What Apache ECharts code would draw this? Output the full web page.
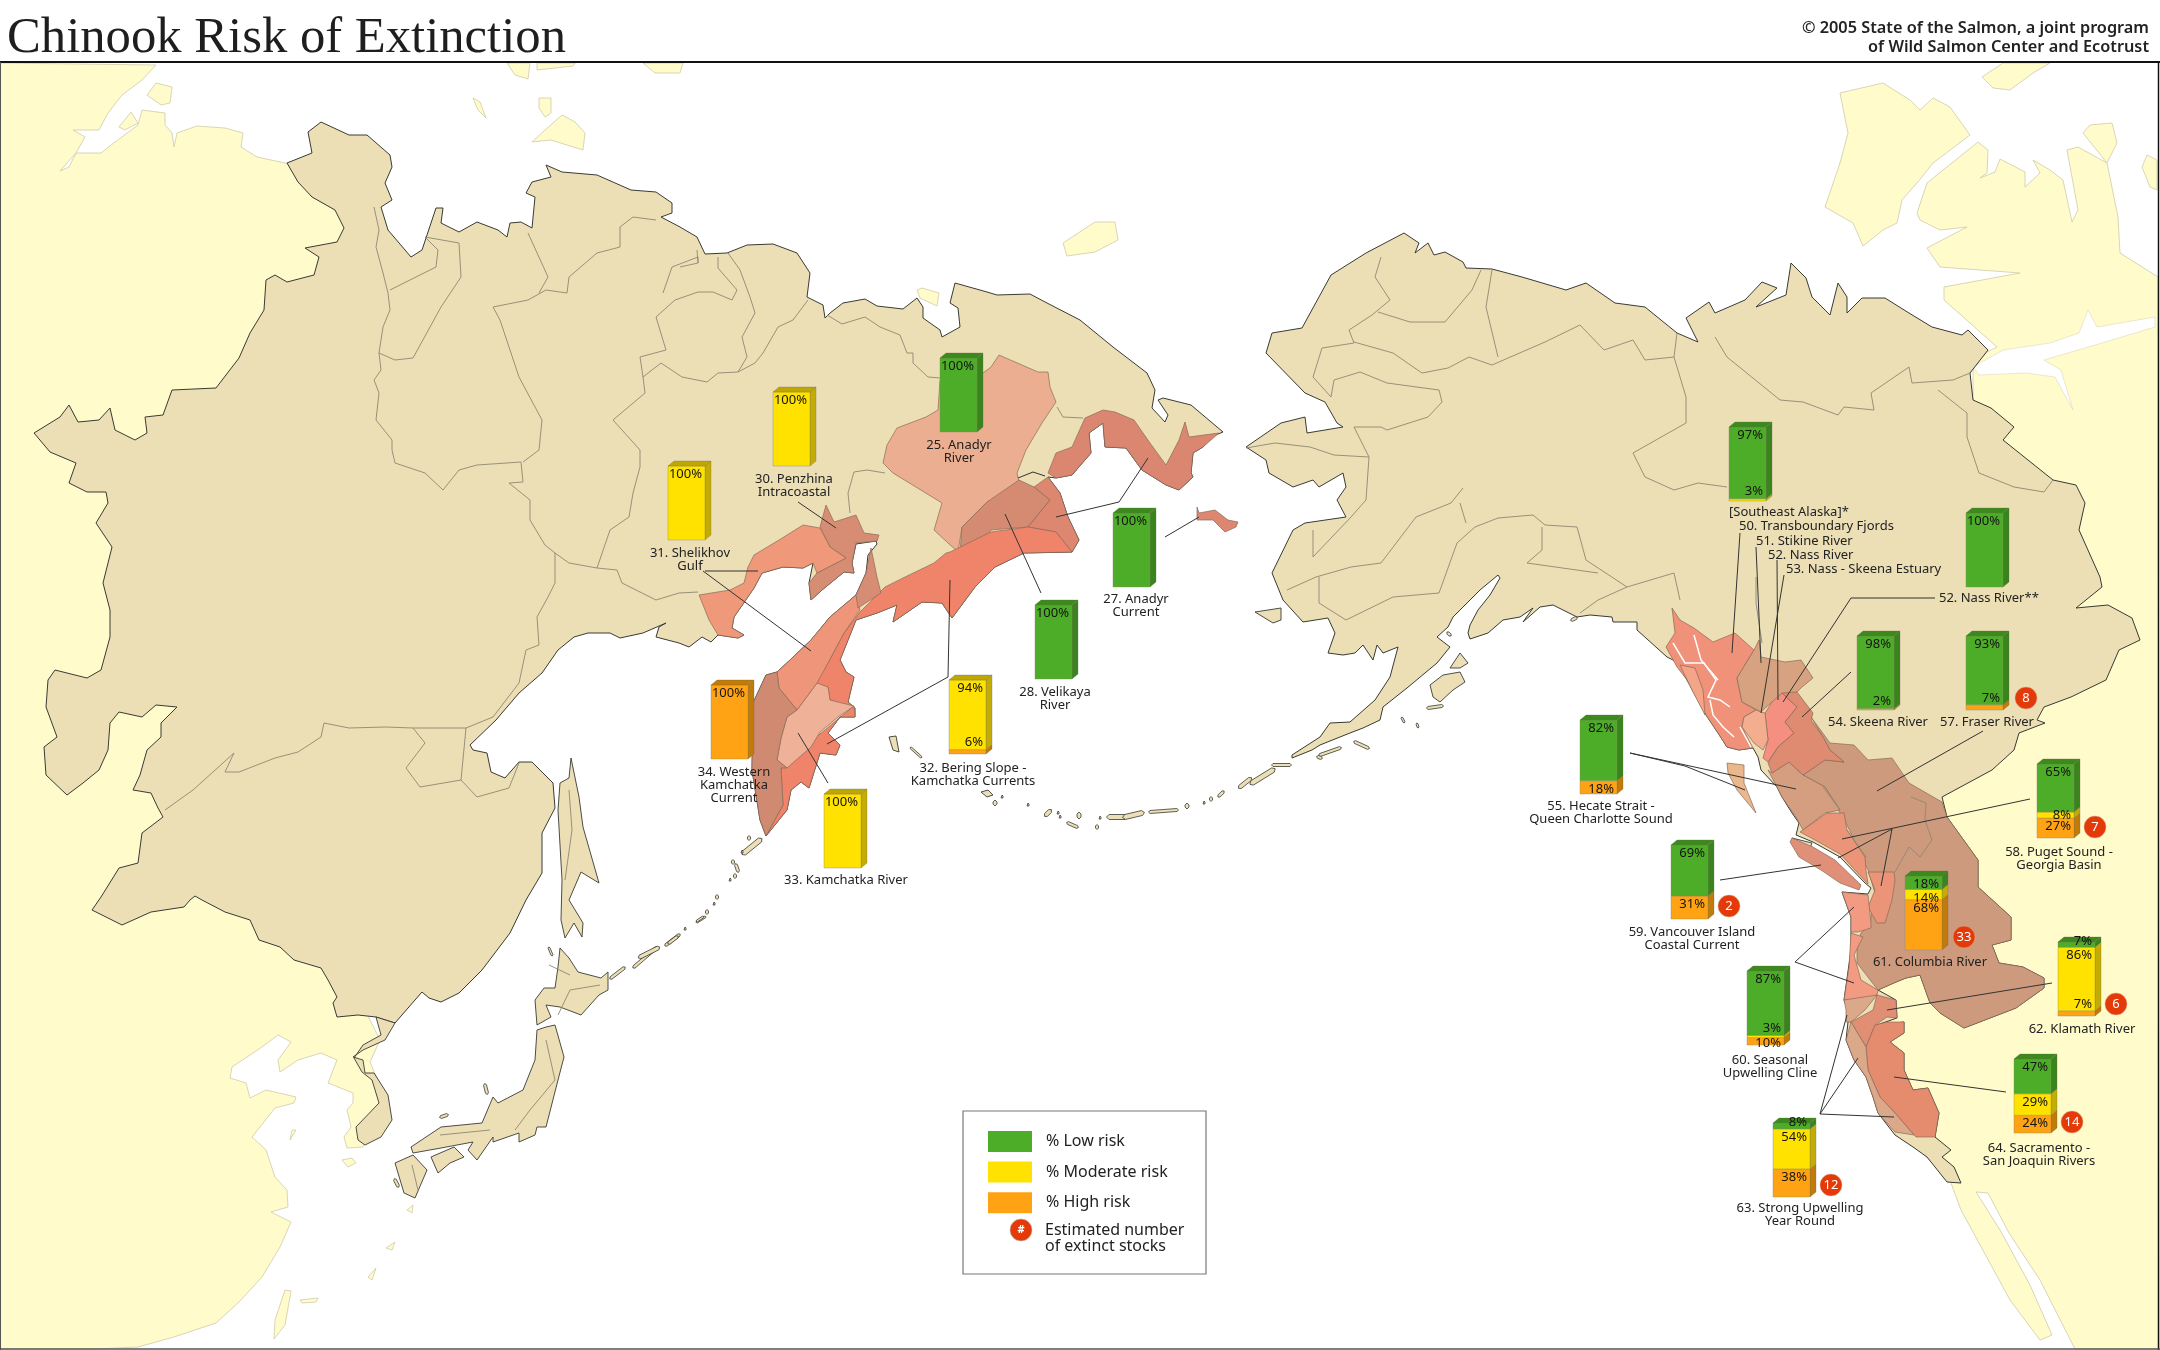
<!DOCTYPE html>
<html><head><meta charset="utf-8">
<style>html,body{margin:0;padding:0;background:#fff}#c{width:2160px;height:1350px}</style>
<script src="https://cdn.jsdelivr.net/npm/echarts@6/dist/echarts.min.js"></script>
</head><body><div id="c"></div>
<script>
// ---------- chart values ----------
const stationKeys = ['25','30','31','27','28','34','32','33','SE','52N','54','57','55','58','59','61','60','62','64','63'];
const lowRisk      = [100,  0,  0,100,100,  0,  0,  0, 97,100, 98, 93, 82, 65, 69, 18, 87,  7, 47,  8];
const moderateRisk = [  0,100,100,  0,  0,  0, 94,100,  3,  0,  0,  0,  0,  8,  0, 14,  3, 86, 29, 54];
const highRisk     = [  0,  0,  0,  0,  0,100,  6,  0,  0,  0,  2,  7, 18, 27, 31, 68, 10,  7, 24, 38];
const extinctStocks = {'57':8,'58':7,'59':2,'61':33,'62':6,'64':14,'63':12};
const riskNames = ['% Low risk','% Moderate risk','% High risk'];
const titleText = 'Chinook Risk of Extinction';
const creditText = '© 2005 State of the Salmon, a joint program\nof Wild Salmon Center and Ecotrust';

// ---------- layout (front-left x, front-top y of each bar) ----------
const barPos = [[940,358],[773,392],[668,466],[1113,513],[1035,605],[711,685],[949,680],[824,794],[1729,427],[1966,513],[1857,636],[1966,636],[1580,720],[2037,764],[1671,845],[1905,876],[1747,971],[2058,942],[2014,1059],[1773,1123]];
const badgePos = {'57':[2026,698],'58':[2095,827],'59':[1729,906],'61':[1964,937],'62':[2116,1004],'64':[2072,1122],'63':[1831,1185]};
const centredLabels = [
 ['25. Anadyr\nRiver',959,439],['30. Penzhina\nIntracoastal',794,473],['31. Shelikhov\nGulf',690,547],['27. Anadyr\nCurrent',1136,593],
 ['28. Velikaya\nRiver',1055,686],['34. Western\nKamchatka\nCurrent',734,766],['32. Bering Slope -\nKamchatka Currents',973,762],['33. Kamchatka River',846,874],
 ['54. Skeena River',1878,716],['57. Fraser River',1987,716],['55. Hecate Strait -\nQueen Charlotte Sound',1601,800],['58. Puget Sound -\nGeorgia Basin',2059,846],
 ['59. Vancouver Island\nCoastal Current',1692,926],['61. Columbia River',1930,956],['60. Seasonal\nUpwelling Cline',1770,1054],['62. Klamath River',2082,1023],
 ['64. Sacramento -\nSan Joaquin Rivers',2039,1142],['63. Strong Upwelling\nYear Round',1800,1202]];
const leftLabels = [['[Southeast Alaska]*',1729,506],['50. Transboundary Fjords',1739,520],['51. Stikine River',1756,535],['52. Nass River',1768,549],['53. Nass - Skeena Estuary',1786,563],['52. Nass River**',1939,592]];

// ---------- geography traced in picture pixels ----------
const paleWest = [[0,63],[156,65],[142,80],[122,95],[108,113],[99,130],[73,130],[85,137],[76,153],[60,171],[69,167],[76,153],[101,153],[115,142],[138,125],[142,110],[165,113],[165,125],[172,133],[174,147],[177,133],[197,126],[225,128],[243,133],[241,147],[257,157],[285,163],[330,170],[420,400],[400,800],[360,1000],[380,1040],[370,1062],[384,1095],[372,1120],[363,1147],[347,1148],[344,1137],[351,1127],[347,1110],[353,1103],[353,1093],[328,1083],[337,1060],[321,1053],[298,1060],[280,1072],[278,1060],[291,1042],[278,1035],[262,1047],[232,1067],[230,1078],[246,1083],[250,1098],[266,1090],[296,1097],[294,1103],[275,1108],[252,1137],[266,1150],[275,1177],[287,1190],[288,1207],[271,1212],[291,1222],[280,1247],[262,1277],[239,1302],[216,1323],[174,1337],[138,1347],[96,1349],[0,1349]];
const paleEast = [[2158,277],[2120,253],[2118,217],[2107,163],[2078,147],[2067,150],[2078,210],[2072,222],[2063,180],[2050,170],[2033,160],[2040,173],[2025,187],[2025,172],[2000,159],[1995,172],[1980,178],[1987,173],[1988,150],[1978,142],[1927,183],[1917,213],[1920,220],[1940,230],[1967,227],[1927,248],[1940,267],[2020,273],[1944,287],[1944,300],[1997,347],[1985,353],[1973,367],[1973,400],[1800,500],[1800,700],[1830,780],[1880,870],[1885,930],[1870,985],[1872,1028],[1895,1100],[1920,1150],[1951,1183],[1961,1210],[1985,1254],[2010,1300],[2040,1340],[2052,1335],[2030,1285],[2000,1230],[1976,1192],[1988,1193],[2009,1233],[2040,1280],[2075,1349],[2159,1349]];
const channel = [[1973,367],[2003,350],[2050,343],[2079,333],[2088,310],[2097,327],[2155,317],[2155,327],[2102,343],[2044,360],[2061,370],[2073,410],[2055,377],[2026,373],[1979,375]];
const paleIslands = [
 [[1840,93],[1883,83],[1910,100],[1920,110],[1933,98],[1950,107],[1970,135],[1933,163],[1917,183],[1902,200],[1897,223],[1883,230],[1863,246],[1853,223],[1825,207],[1840,163],[1848,133]],
 [[1982,77],[2003,63],[2050,63],[2033,73],[2010,90],[1993,88]],
 [[2083,133],[2090,125],[2112,123],[2117,143],[2107,163]],
 [[2142,167],[2147,155],[2157,160],[2157,190],[2150,187]],
 [[507,63],[515,75],[528,79],[530,63]],[[537,63],[537,70],[573,66],[575,63]],[[643,63],[655,73],[680,73],[683,63]],
 [[473,98],[480,102],[486,118],[478,110]],[[539,98],[551,98],[551,113],[545,117],[539,108]],
 [[532,142],[545,130],[562,115],[575,122],[585,133],[583,150],[551,140]],
 [[147,95],[156,83],[172,87],[170,103],[161,105]],[[119,127],[131,112],[138,123],[125,130]],
 [[1063,243],[1095,222],[1115,222],[1118,240],[1095,252],[1067,256]],[[917,290],[922,288],[939,293],[937,306],[920,298]],
 [[342,1160],[352,1158],[356,1163],[348,1167]],[[275,1320],[285,1290],[291,1291],[285,1325],[274,1339]],
 [[292,1130],[296,1130],[290,1140]],
 [[407,1210],[413,1205],[412,1213]],[[386,1248],[395,1242],[392,1250]],[[368,1277],[376,1268],[372,1280]],[[300,1300],[318,1298],[316,1302],[302,1303]]];
const beigeMain = [[34,433],[60,417],[69,405],[78,422],[99,420],[110,408],[115,430],[135,440],[147,433],[145,417],[163,415],[172,390],[216,388],[239,358],[250,333],[264,310],[266,280],[275,275],[287,282],[314,275],[319,257],[305,248],[337,242],[344,228],[335,210],[312,197],[298,182],[287,163],[312,153],[308,132],[321,122],[349,135],[367,135],[390,155],[392,167],[385,183],[392,200],[381,207],[388,230],[411,257],[422,250],[436,208],[443,208],[441,223],[459,232],[477,222],[498,230],[507,237],[510,223],[521,222],[532,228],[535,197],[526,193],[532,182],[551,177],[546,165],[562,172],[597,175],[631,190],[656,192],[672,203],[672,213],[661,217],[680,227],[697,237],[705,254],[727,253],[747,245],[773,244],[797,253],[810,273],[807,297],[823,305],[825,318],[830,313],[843,303],[865,299],[877,306],[903,309],[917,298],[923,307],[923,318],[940,330],[942,337],[960,327],[958,308],[950,303],[955,283],[987,292],[997,295],[1030,294],[1047,303],[1080,320],[1113,347],[1147,373],[1155,390],[1152,408],[1165,422],[1168,415],[1158,400],[1163,398],[1191,405],[1223,432],[1211,437],[1203,447],[1193,453],[1191,473],[1193,477],[1179,490],[1166,485],[1142,470],[1126,448],[1105,447],[1103,423],[1089,433],[1091,453],[1072,475],[1056,478],[1048,477],[1060,493],[1068,517],[1079,540],[1072,552],[1024,553],[995,567],[975,587],[952,618],[942,603],[922,602],[893,622],[897,605],[877,613],[856,620],[840,660],[846,672],[854,677],[848,702],[855,708],[855,717],[840,717],[828,733],[840,745],[836,755],[820,753],[809,788],[801,782],[791,790],[787,810],[766,836],[760,820],[752,770],[753,703],[766,675],[777,672],[790,660],[811,640],[830,617],[856,595],[866,573],[868,555],[877,544],[876,541],[856,544],[852,563],[854,573],[844,572],[822,590],[811,600],[809,583],[813,563],[803,568],[783,567],[762,573],[754,588],[734,617],[732,628],[744,635],[738,638],[718,635],[711,642],[702,637],[689,647],[679,643],[656,637],[659,627],[666,623],[643,633],[620,638],[610,633],[588,633],[574,637],[558,650],[542,673],[519,693],[496,720],[470,745],[473,750],[487,753],[491,772],[505,778],[519,762],[532,762],[553,783],[555,808],[542,833],[542,873],[526,900],[510,933],[482,970],[459,993],[441,1002],[429,998],[422,992],[415,1000],[395,1023],[376,1017],[358,1015],[337,1017],[333,1003],[337,997],[328,980],[321,968],[294,960],[280,947],[259,940],[250,920],[225,912],[202,900],[195,896],[190,900],[184,907],[151,912],[122,925],[92,910],[101,897],[119,868],[138,863],[142,833],[163,817],[158,808],[151,793],[133,790],[140,775],[147,750],[161,737],[161,723],[177,707],[156,705],[142,717],[119,712],[110,723],[108,750],[99,770],[83,783],[67,795],[46,775],[44,747],[57,737],[46,707],[48,680],[55,670],[87,678],[101,670],[110,637],[110,610],[103,583],[112,547],[96,523],[108,503],[106,492],[87,492],[69,483],[76,463],[50,452]];
const beigeAmerica = [[1404,233],[1419,243],[1415,253],[1428,243],[1434,255],[1445,252],[1463,262],[1466,268],[1492,269],[1522,277],[1566,290],[1586,283],[1615,303],[1645,307],[1677,333],[1698,342],[1686,318],[1709,302],[1715,313],[1745,300],[1762,282],[1777,288],[1756,307],[1786,295],[1791,263],[1806,278],[1812,297],[1830,315],[1838,283],[1847,297],[1847,313],[1862,298],[1885,298],[1909,313],[1932,327],[1962,335],[1968,330],[1988,350],[1970,373],[1973,400],[1991,408],[2014,427],[2003,440],[2053,480],[2076,485],[2085,503],[2079,530],[2100,577],[2102,587],[2076,608],[2108,605],[2132,618],[2140,640],[2119,650],[2106,680],[2071,697],[2044,707],[2037,720],[2045,723],[2019,733],[2014,750],[1992,770],[1942,797],[1947,817],[1978,860],[1978,887],[2011,917],[2011,940],[1992,945],[1999,963],[2023,967],[2044,978],[2044,988],[2016,1008],[1964,1028],[1940,1013],[1930,1003],[1920,975],[1906,978],[1896,982],[1878,990],[1896,1000],[1897,1018],[1877,1025],[1904,1022],[1904,1033],[1890,1042],[1904,1053],[1904,1070],[1913,1090],[1928,1088],[1939,1113],[1935,1137],[1951,1150],[1942,1157],[1954,1167],[1961,1183],[1947,1182],[1927,1157],[1913,1147],[1895,1135],[1878,1113],[1873,1097],[1866,1077],[1854,1060],[1846,1040],[1849,1013],[1844,1000],[1851,950],[1851,930],[1851,917],[1842,892],[1868,894],[1871,888],[1865,883],[1840,857],[1813,842],[1796,835],[1799,823],[1792,813],[1782,797],[1777,787],[1761,770],[1758,757],[1753,748],[1739,750],[1727,747],[1718,733],[1706,715],[1687,680],[1677,662],[1667,657],[1637,630],[1637,622],[1613,622],[1612,617],[1590,615],[1577,617],[1553,605],[1540,607],[1523,622],[1533,608],[1520,617],[1503,620],[1488,633],[1470,639],[1468,633],[1470,625],[1478,610],[1490,595],[1500,578],[1498,575],[1480,590],[1467,603],[1453,617],[1448,627],[1437,637],[1450,647],[1437,663],[1407,688],[1383,707],[1380,720],[1363,728],[1350,733],[1320,745],[1312,750],[1292,758],[1292,755],[1320,737],[1330,723],[1350,722],[1375,700],[1390,677],[1398,647],[1383,653],[1377,645],[1373,660],[1363,645],[1355,653],[1343,655],[1328,653],[1335,633],[1328,618],[1303,622],[1283,600],[1272,573],[1293,530],[1305,523],[1346,517],[1337,500],[1346,487],[1343,473],[1319,487],[1313,480],[1293,487],[1269,473],[1266,460],[1246,447],[1281,423],[1305,417],[1307,433],[1343,427],[1337,423],[1325,402],[1305,393],[1266,353],[1272,333],[1302,328],[1331,275],[1366,253]];
const beigeIslands = [
 [[376,1017],[395,1023],[385,1040],[363,1050],[353,1057],[363,1060],[365,1073],[374,1073],[388,1095],[392,1120],[381,1137],[365,1145],[358,1140],[356,1127],[379,1103],[372,1080],[362,1072],[354,1058],[363,1045],[381,1035]],
 [[571,758],[579,797],[583,827],[599,883],[581,872],[569,900],[583,923],[582,937],[574,923],[565,938],[561,920],[562,880],[558,810],[560,783],[569,778]],
 [[560,948],[569,958],[578,972],[601,978],[608,972],[608,990],[599,995],[581,1015],[560,1007],[546,1005],[551,1017],[537,1025],[535,1000],[544,988],[555,988],[558,967]],
 [[546,1027],[555,1025],[564,1057],[558,1080],[546,1127],[537,1127],[535,1135],[519,1142],[519,1133],[493,1142],[493,1137],[477,1160],[468,1150],[473,1142],[441,1148],[413,1153],[411,1147],[441,1127],[482,1123],[493,1097],[498,1103],[523,1090],[535,1060],[537,1030]],
 [[431,1157],[454,1147],[464,1157],[450,1163],[438,1173]],[[395,1163],[413,1155],[427,1170],[415,1198],[404,1193]],
 [[1430,685],[1443,675],[1460,672],[1465,682],[1453,690],[1440,702],[1433,697]],[[1450,668],[1460,653],[1468,663],[1460,668]],
 [[1255,612],[1281,608],[1281,620],[1273,623]],[[889,737],[896,736],[899,752],[893,750]],[[981,792],[988,790],[993,795],[987,797]],
 [[1792,838],[1812,843],[1808,853],[1798,855]]];
const isletSegments = [[611,978,624,968,3],[634,967,656,948,3],[666,945,679,935,3],[697,922,705,917,2],[640,957,658,948,4],[744,853,760,840,5],[911,748,921,757,2],[1068,823,1077,827,3],[1109,817,1125,817,5],[1125,817,1142,813,5],[1150,812,1177,810,3],[1252,783,1273,770,5],[1240,787,1250,779,4],[1273,765,1290,765,3],[1355,742,1368,748,3],[1320,755,1340,748,3],[1428,708,1442,706,3],[1318,757,1321,758,3],[1402,718,1404,722,2],[1417,724,1418,727,2],[1448,633,1450,635,3],[1572,620,1576,618,3],[549,948,552,955,2],[485,1085,487,1093,3],[441,1117,447,1115,3],[395,1180,398,1186,3],
 [733,861,733,863,3],[736,865,738,871,3],[735,875,735,877,3],[730,879,730,881,2],[717,896,717,898,3],[714,903,714,905,2],[707,911,707,913,3],[697,921,703,917,2],[685,928,685,930,2],[669,943,677,937,3],[749,837,749,839,3],[742,851,742,853,2],
 [995,802,995,804,4],[1002,796,1002,798,2],[1028,804,1028,806,2],[1046,815,1050,811,4],[1058,812,1058,814,2],[1060,816,1060,818,2],[1079,814,1079,817,4],[1100,817,1100,819,2],[1097,826,1097,828,3],[1187,805,1187,807,4],[1204,802,1204,804,2],[1211,798,1211,800,3],[1219,796,1223,792,3]];
const zones = [
 ['fraser','#CD9A7D',[[1811,717],[1830,743],[1854,745],[1868,760],[1892,758],[1909,783],[1942,802],[1947,817],[1978,860],[1978,887],[2011,917],[2011,940],[1992,945],[1999,963],[2023,967],[2044,978],[2044,988],[2016,1008],[1964,1028],[1940,1013],[1930,1003],[1920,975],[1906,978],[1896,982],[1878,990],[1857,963],[1857,943],[1861,933],[1870,923],[1875,893],[1868,870],[1847,825],[1825,787],[1803,775],[1825,760],[1844,762],[1830,750],[1823,737]]],
 ['anadyr','#ECAE90',[[999,355],[1038,372],[1048,372],[1050,387],[1056,402],[1042,423],[1026,450],[1017,473],[1019,482],[1021,493],[987,502],[962,527],[958,552],[948,543],[934,530],[942,503],[893,473],[883,463],[887,445],[897,428],[926,417],[938,410],[940,380],[983,373],[991,367]]],
 ['velikaya','#D58B72',[[1019,480],[1034,487],[1050,500],[1028,527],[991,530],[983,543],[960,552],[962,527],[987,502]]],
 ['current','#DD8670',[[1034,487],[1048,477],[1060,493],[1068,517],[1079,540],[1072,552],[1056,532],[1028,527],[1050,500]]],
 ['chukotka','#DB8670',[[1048,473],[1056,453],[1072,447],[1085,418],[1103,410],[1115,412],[1134,420],[1150,443],[1166,465],[1179,440],[1185,422],[1189,437],[1219,433],[1203,447],[1193,453],[1191,473],[1193,477],[1179,490],[1166,485],[1142,470],[1126,448],[1105,447],[1103,423],[1089,433],[1091,453],[1072,475],[1056,478]]],
 ['commander','#DD8670',[[1197,507],[1199,513],[1215,510],[1228,520],[1238,522],[1236,527],[1225,532],[1213,520],[1197,520]]],
 ['bering','#F0846A',[[950,552],[991,532],[1028,527],[1056,532],[1072,552],[1024,553],[995,567],[975,587],[952,618],[942,603],[922,602],[893,622],[897,605],[877,613],[856,620],[840,660],[846,672],[854,677],[848,702],[855,708],[830,700],[828,687],[815,683],[828,663],[844,633],[860,612],[885,587],[905,577],[934,563],[946,553]]],
 ['kamSouth','#F0846A',[[854,706],[855,717],[840,717],[828,733],[840,745],[836,755],[820,753],[809,788],[801,782],[791,790],[787,810],[766,836],[783,805],[781,768],[809,743]]],
 ['kamLight','#EFB299',[[817,683],[828,687],[830,700],[854,706],[838,717],[820,732],[811,747],[787,768],[777,760],[781,738],[787,717],[797,710]]],
 ['kamWest1','#EF967A',[[856,595],[860,610],[844,633],[828,663],[817,683],[797,710],[779,688],[777,672],[790,660],[811,640],[830,617]]],
 ['kamWest2','#D08A72',[[766,675],[777,672],[779,688],[797,710],[787,717],[781,738],[777,760],[787,768],[781,768],[783,805],[766,836],[760,820],[752,770],[753,703]]],
 ['penzhina','#D68D74',[[826,505],[834,522],[856,515],[864,533],[879,535],[877,541],[856,543],[852,563],[854,573],[844,572],[822,590],[811,600],[809,583],[817,573],[846,558],[830,547],[820,527]]],
 ['penzhina2','#D68D74',[[871,548],[877,577],[881,593],[858,608],[856,595],[866,573]]],
 ['shelikhov','#F0987A',[[820,528],[830,547],[846,558],[817,573],[813,563],[803,568],[783,567],[762,573],[754,588],[734,617],[732,628],[744,635],[738,638],[718,635],[709,620],[699,595],[730,590],[744,583],[748,567],[754,555],[779,540],[803,525]]],
 ['tanCoast','#D59E80',[[1789,762],[1803,775],[1825,787],[1840,810],[1825,813],[1803,830],[1796,817],[1782,797],[1777,787],[1768,770],[1772,773]]],
 ['fjords','#F0917A',[[1672,608],[1680,620],[1694,628],[1713,642],[1735,633],[1754,650],[1737,678],[1742,702],[1756,710],[1744,717],[1742,727],[1753,748],[1739,750],[1727,747],[1718,733],[1706,715],[1687,680],[1677,667],[1666,647],[1675,633]]],
 ['stikine','#D7A27F',[[1759,640],[1761,657],[1785,662],[1801,660],[1813,678],[1802,687],[1797,692],[1772,702],[1761,712],[1742,702],[1737,678],[1754,650]]],
 ['nass','#F58F80',[[1772,702],[1782,693],[1797,707],[1785,722],[1794,733],[1778,747],[1768,762],[1763,758],[1768,740],[1765,713]]],
 ['estuary','#F2AE8E',[[1761,712],[1765,713],[1768,740],[1763,750],[1754,743],[1742,727],[1744,717],[1756,710]]],
 ['skeena','#DF8B72',[[1782,693],[1797,692],[1813,713],[1811,720],[1823,737],[1830,750],[1844,762],[1825,760],[1803,775],[1789,762],[1772,773],[1768,763],[1778,747],[1794,733],[1785,722],[1797,707]]],
 ['puget','#EC9478',[[1827,813],[1844,813],[1847,830],[1865,857],[1866,870],[1868,884],[1840,854],[1815,840],[1800,832]]],
 ['georgia','#EC9478',[[1894,872],[1895,880],[1892,900],[1885,923],[1877,923],[1868,907],[1875,890],[1868,872]]],
 ['vancouver','#E09078',[[1792,838],[1813,847],[1835,860],[1861,885],[1859,890],[1840,883],[1821,870],[1799,857],[1790,842]]],
 ['haida','#EBB78C',[[1727,763],[1744,765],[1744,783],[1756,813],[1737,790],[1728,773]]],
 ['olympic','#F29A82',[[1842,892],[1868,895],[1871,923],[1871,928],[1858,932],[1851,932],[1851,917]]],
 ['oregon','#F29A82',[[1851,933],[1863,937],[1854,955],[1861,980],[1878,990],[1877,995],[1861,1000],[1844,1000],[1849,967]]],
 ['northCal','#DCA88A',[[1844,1000],[1877,995],[1865,1010],[1851,1022],[1846,1022],[1846,1010]]],
 ['klamath','#E08E74',[[1877,995],[1896,1000],[1897,1018],[1887,1017],[1875,1025],[1866,1047],[1851,1022],[1873,1010]]],
 ['sacramento','#E68C6E',[[1866,1047],[1875,1025],[1887,1022],[1904,1022],[1904,1033],[1890,1042],[1904,1053],[1904,1070],[1913,1090],[1928,1088],[1939,1113],[1935,1137],[1916,1137],[1895,1113],[1880,1097],[1868,1070]]],
 ['calCoast','#DCA88A',[[1851,1022],[1866,1047],[1868,1070],[1880,1097],[1895,1113],[1914,1135],[1895,1132],[1878,1113],[1873,1097],[1866,1077],[1854,1060],[1846,1040]]],
 ['alexander','#F4A588',[[1680,665],[1695,668],[1703,690],[1705,715],[1692,690]]]
];
const innerBorders = [
 [[374,207],[379,230],[376,247],[383,273],[388,293],[390,310],[383,327],[379,353],[381,370],[374,380],[379,393],[376,420],[392,440],[392,450],[395,463],[425,473],[443,490],[459,470],[477,465],[521,462],[523,482],[509,483],[530,500],[530,520],[545,545],[555,553],[555,583],[548,597],[537,617],[539,645],[526,650],[519,683],[493,717],[466,728]],
 [[466,728],[413,728],[386,727],[349,728],[324,723],[321,737],[298,752],[275,758],[239,772],[225,772],[234,753],[213,772],[193,790],[165,810]],
 [[413,728],[425,743],[406,768],[420,787],[461,780],[466,728]],[[461,780],[477,797],[509,788],[519,763]],
 [[555,553],[569,563],[597,568],[617,570],[622,583],[656,600],[679,593],[698,592]],
 [[597,568],[610,530],[629,517],[633,493],[640,467],[640,450],[613,420],[645,393],[643,377],[640,357],[666,350],[656,317],[675,300],[698,292],[713,292],[732,300],[737,290],[718,268],[718,257]],
 [[643,377],[661,363],[682,377],[707,382],[718,373],[738,372],[755,363],[763,353],[778,327],[793,320],[808,300]],
 [[663,293],[672,267],[698,257],[698,263],[697,250]],[[698,263],[680,267]],
 [[620,227],[620,247],[597,253],[569,277],[567,293],[546,290],[528,300],[493,307],[500,320],[519,377],[542,420],[539,450],[523,462]],
 [[620,227],[633,217],[656,220]],[[528,233],[548,277],[539,293]],
 [[459,243],[461,277],[441,307],[413,358],[395,360],[379,353]],[[459,243],[425,237],[438,250],[436,267],[390,290]],
 [[728,253],[740,270],[750,297],[755,313],[742,337],[747,357],[738,372]],
 [[827,315],[842,324],[865,317],[880,327],[900,335],[907,353],[913,353],[913,363],[928,377],[940,378]],
 [[1057,407],[1063,417],[1083,418]],[[854,472],[848,493],[850,513]],[[854,472],[867,470],[885,473]],
 [[1381,257],[1375,277],[1390,300],[1372,315],[1349,330],[1354,343],[1322,348],[1313,377],[1331,397]],
 [[1378,312],[1410,322],[1445,322],[1472,290],[1481,270]],[[1492,270],[1486,307],[1498,357]],
 [[1354,342],[1393,353],[1422,373],[1448,368],[1469,357],[1492,365],[1545,342],[1580,325],[1604,350],[1633,340],[1645,360],[1674,357]],
 [[1677,333],[1674,357],[1686,397],[1686,423],[1633,453],[1645,477],[1674,490],[1698,483],[1727,487]],
 [[1715,337],[1727,357],[1780,400],[1803,402],[1838,415],[1844,407],[1874,410],[1871,393],[1909,367],[1912,383],[1953,380],[1970,373]],
 [[1938,390],[1967,413],[1967,437],[1979,473],[2014,487],[2044,492],[2053,480]],
 [[1331,397],[1334,380],[1360,372],[1387,383],[1439,390],[1442,402],[1428,417],[1387,430],[1381,427],[1354,427],[1369,457],[1366,500],[1351,517],[1313,557],[1313,530]],
 [[1246,448],[1275,443],[1310,447],[1334,455],[1369,457]],
 [[1463,488],[1451,503],[1416,517],[1381,563],[1351,567],[1316,577],[1287,590]],
 [[1319,577],[1319,603],[1346,620],[1393,597],[1439,593],[1457,543],[1475,527],[1498,518],[1533,515],[1545,525],[1577,527],[1586,560],[1627,587],[1674,573],[1680,600]],
 [[1460,503],[1466,523]],[[1542,527],[1542,550],[1527,563],[1598,573]],[[1580,613],[1598,600],[1627,587]],[[1756,577],[1756,603],[1762,643]],
 [[1911,797],[1926,803],[1925,820],[1932,840],[1920,857],[1909,847],[1895,872]],
 [[569,790],[572,830],[565,880]],[[558,1015],[570,990],[600,985]],[[549,965],[570,975]],[[546,1040],[555,1080],[530,1110],[515,1130]],[[440,1135],[490,1130]],[[412,1165],[418,1190]],
 [[1823,787],[1840,810]],[[1847,830],[1866,857]]
];
const fjordLines = [[[1673,643],[1685,663],[1704,663],[1716,680],[1708,697],[1720,700],[1730,707]],[[1694,635],[1701,660],[1718,680]],[[1710,700],[1713,715],[1723,727],[1734,737]],[[1740,727],[1751,747]]];
const leaderLines = [
 [[798,502],[836,528]],[[705,571],[758,571]],[[703,571],[811,651]],[[1148,458],[1119,502],[1056,517]],[[1165,537],[1199,517]],[[1041,593],[1005,514]],
 [[950,580],[948,677],[827,744]],[[828,783],[798,733]],[[1740,533],[1732,653]],[[1756,547],[1761,663]],[[1777,560],[1778,700]],[[1784,575],[1761,713]],
 [[1935,598],[1851,598],[1783,702]],[[1851,672],[1802,717]],[[1983,731],[1877,791]],[[1630,753],[1685,766],[1745,790]],[[1630,753],[1796,789]],
 [[2030,799],[1842,839]],[[1892,829],[1838,858]],[[1892,829],[1881,886]],[[1720,880],[1821,865]],[[1854,907],[1795,962],[1854,983]],[[2052,983],[1887,1010]],[[2006,1092],[1894,1077]],
 [[1847,1015],[1820,1114],[1858,1058]],[[1820,1114],[1894,1117]],[[1018,478],[1033,472],[1045,476]]
];

// ---------- helpers ----------
const G = p => [p[0], 1350 - p[1]];
const ring = pts => { const r = pts.map(G); r.push(r[0]); return r; };
const features = [], regions = [];
function add(name, pts, fill, stroke, w){
  features.push({type:'Feature',properties:{name},geometry:{type:'Polygon',coordinates:[ring(pts)]}});
  regions.push({name,itemStyle:{areaColor:fill,borderColor:stroke,borderWidth:w}});
}
const PALE='#FFFBCB', BEIGE='#ECDFB6';
add('paleWest',paleWest,PALE,'#CFCBA8',.8);
add('paleEast',paleEast,PALE,'#CFCBA8',.8);
add('channel',channel,'#FFFFFF','#DDD9BC',.6);
paleIslands.forEach((p,i)=>add('paleI'+i,p,PALE,'#CFCBA8',.8));
add('beigeMain',beigeMain,BEIGE,'#3A3A34',1);
add('beigeAmerica',beigeAmerica,BEIGE,'#3A3A34',1);
beigeIslands.forEach((p,i)=>add('beigeI'+i,p,BEIGE,'#3A3A34',.9));
isletSegments.forEach((s,i)=>{
  const [a,b,c,d,w]=s, dx=c-a, dy=d-b, L=Math.hypot(dx,dy)||1, nx=-dy/L*w/2, ny=dx/L*w/2, ex=dx/L*w/2, ey=dy/L*w/2;
  add('islet'+i,[[a-ex,b-ey],[a+nx,b+ny],[c+nx,d+ny],[c+ex,d+ey],[c-nx,d-ny],[a-nx,b-ny]],BEIGE,'#3A3A34',.8);
});
zones.forEach(z=>add(z[0],z[2],z[1],'#8A6A58',.7));
echarts.registerMap('chinook',{type:'FeatureCollection',features});

const riskFront=['#4EAD28','#FFE200','#FFA314'], riskSide=['#3A841E','#C4AC06','#C27A08'], riskTop=['#3C8A1E','#BFA600','#C27A08'];
const FW=37, FH=74, DX=6, DY=5;
const labelOverride={'58/1':3,'60/2':6};
const grids=[], xAxes=[], yAxes=[], series=[];

series.push({type:'lines',coordinateSystem:'geo',polyline:true,silent:true,z:3,data:innerBorders.map(l=>({coords:l.map(G)})),lineStyle:{color:'#8F8872',width:.9,opacity:1}});
series.push({type:'lines',coordinateSystem:'geo',polyline:true,silent:true,z:3,data:fjordLines.map(l=>({coords:l.map(G)})),lineStyle:{color:'#FFFFFF',width:1.5,opacity:1}});
series.push({type:'lines',coordinateSystem:'geo',polyline:true,silent:true,z:4,data:leaderLines.map(l=>({coords:l.map(G)})),lineStyle:{color:'#333333',width:1,opacity:1}});

stationKeys.forEach((key,i)=>{
  grids.push({left:barPos[i][0],top:barPos[i][1],width:FW,height:FH,containLabel:false,show:false});
  xAxes.push({type:'value',gridIndex:i,min:0,max:1,show:false});
  yAxes.push({type:'value',gridIndex:i,min:0,max:100,show:false});
  const vals=[lowRisk[i],moderateRisk[i],highRisk[i]];
  const order=[2,1,0];
  let base=0;
  const topRisk=vals.findIndex(v=>v>0);
  order.forEach(r=>{
    const from=base, to=base+vals[r]; base=to;
    series.push({
      type:'custom',name:riskNames[r],xAxisIndex:i,yAxisIndex:i,z:6,silent:true,clip:false,
      itemStyle:{color:riskFront[r]},
      data: vals[r]>0?[[from,to,vals[r]]]:[],
      encode:{x:[],y:[0,1]},
      renderItem:(p,api)=>{
        const a=api.coord([0,api.value(0)]), b=api.coord([1,api.value(1)]);
        const x0=a[0],x1=b[0],y0=a[1],y1=b[1],h=y0-y1;
        const kids=[
          {type:'polygon',shape:{points:[[x1,y0],[x1+DX,y0-DY],[x1+DX,y1-DY],[x1,y1]]},style:{fill:riskSide[r],stroke:'#6b6b45',lineWidth:.3}},
          {type:'rect',shape:{x:x0,y:y1,width:x1-x0,height:h},style:{fill:riskFront[r],stroke:'#8a8a60',lineWidth:.4}}
        ];
        if(r===topRisk) kids.push({type:'polygon',shape:{points:[[x0,y1],[x0+DX,y1-DY],[x1+DX,y1-DY],[x1,y1]]},style:{fill:riskTop[r],stroke:'#6b6b45',lineWidth:.3}});
        let cy;
        const ov=labelOverride[key+'/'+r];
        if(ov!==undefined) cy=y1+ov;
        else if(h>=10) cy=y1+8.5;
        else if(r===topRisk) cy=y1-1;
        else cy=y1-7;
        kids.push({type:'text',z2:10,style:{text:api.value(2)+'%',x:x1-3,y:cy,textAlign:'right',textVerticalAlign:'middle',fill:'#141414',font:'13px "Noto Sans"'}});
        return {type:'group',children:kids};
      }
    });
  });
});

// station names
const nameRows=centredLabels.map(l=>({value:[...G([l[1],l[2]]),l[0]],a:'center'})).concat(leftLabels.map(l=>({value:[...G([l[1],l[2]]),l[0]],a:'left'})));
series.push({type:'custom',coordinateSystem:'geo',z:8,silent:true,data:nameRows,renderItem:(p,api)=>{
  const c=api.coord([api.value(0),api.value(1)]);
  return {type:'text',style:{text:nameRows[p.dataIndex].value[2],x:c[0],y:c[1],textAlign:nameRows[p.dataIndex].a,textVerticalAlign:'top',fill:'#222',font:'13px "Noto Sans"',lineHeight:13}};
}});
// extinct badges
series.push({type:'scatter',coordinateSystem:'geo',z:9,silent:true,symbolSize:22,
  data:Object.keys(badgePos).map(k=>({value:[...G(badgePos[k]),extinctStocks[k]]})),
  itemStyle:{color:'#E43A0A',opacity:1,borderColor:'#d9b38c',borderWidth:.5},
  label:{show:true,position:'inside',formatter:d=>d.value[2],color:'#fff',fontSize:13,fontFamily:'Noto Sans'}});

const chart=echarts.init(document.getElementById('c'),null,{renderer:'canvas',width:2160,height:1350});
chart.setOption({
  animation:false,backgroundColor:'#FFFFFF',
  title:[
    {text:titleText,left:2,top:8,textStyle:{fontFamily:'Liberation Serif',fontWeight:'normal',fontSize:50.7,color:'#1E1E1E'}},
    {text:creditText,left:2144,top:14,textAlign:'right',textStyle:{fontFamily:'Noto Sans',fontWeight:600,fontSize:16.3,lineHeight:19,color:'#222',align:'right'}}
  ],
  legend:{left:983,top:1126,orient:'vertical',data:riskNames,icon:'rect',itemWidth:44,itemHeight:21,itemGap:9.6,selectedMode:false,
    textStyle:{fontFamily:'Noto Sans',fontSize:16,color:'#222',padding:[0,0,0,9]},z:11},
  geo:{map:'chinook',roam:false,silent:true,aspectScale:1,left:0,top:0,width:2160,height:1350,boundingCoords:[[0,1350],[2160,0]],
    label:{show:false},itemStyle:{areaColor:PALE,borderColor:'#333',borderWidth:1},emphasis:{disabled:true},regions,z:1},
  grid:grids,xAxis:xAxes,yAxis:yAxes,series,
  graphic:[
    {type:'rect',z:10,shape:{x:963,y:1111,width:243,height:163},style:{fill:'#fff',stroke:'#777',lineWidth:1.2}},
    {type:'circle',z:12,shape:{cx:1021,cy:1230,r:11},style:{fill:'#E43A0A',stroke:'#bbb',lineWidth:.6}},
    {type:'text',z:12,style:{text:'#',x:1021,y:1230,textAlign:'center',textVerticalAlign:'middle',fill:'#fff',font:'bold 11px "Noto Sans"'}},
    {type:'text',z:12,style:{text:'Estimated number\nof extinct stocks',x:1045,y:1222,textVerticalAlign:'top',fill:'#222',font:'16px "Noto Sans"',lineHeight:16}},
    {type:'line',z:10,shape:{x1:0,y1:62,x2:2160,y2:62},style:{stroke:'#111',lineWidth:2}},
    {type:'line',z:10,shape:{x1:.5,y1:62,x2:.5,y2:1350},style:{stroke:'#555',lineWidth:1}},
    {type:'line',z:10,shape:{x1:2158.5,y1:62,x2:2158.5,y2:1350},style:{stroke:'#111',lineWidth:1.5}},
    {type:'line',z:10,shape:{x1:0,y1:1349,x2:2160,y2:1349},style:{stroke:'#555',lineWidth:1.5}}
  ]
});
</script></body></html>
